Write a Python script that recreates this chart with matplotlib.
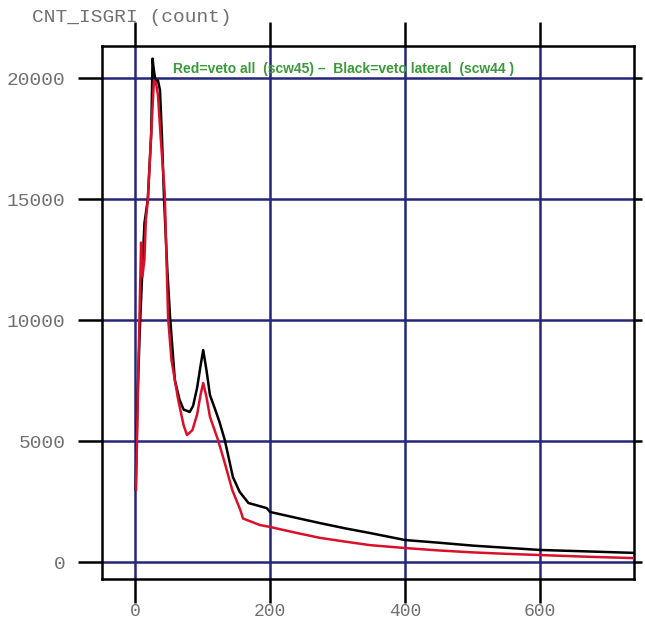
import matplotlib.pyplot as plt
import numpy as np

# channel vs counts
black_ch = [1, 4, 7, 10, 14, 19, 24, 26, 28, 31, 34, 37, 40, 43, 48, 52, 59, 66, 72,
            77, 81, 86, 92, 97, 101, 106, 111, 118, 125, 133, 145, 155, 168, 195,
            200, 240, 274, 310, 348, 400, 450, 500, 550, 600, 670, 738]
black_cnt = [3000, 7000, 9500, 11500, 14000, 15000, 17700, 20800, 20300, 19800, 19900,
             19500, 17500, 15000, 12000, 10100, 7520, 6700, 6300, 6250, 6200, 6450,
             7200, 8100, 8760, 7900, 6900, 6360, 5800, 5040, 3510, 2900, 2440, 2230,
             2070, 1820, 1610, 1400, 1200, 910, 800, 680, 590, 500, 440, 380]

red_ch = [1.5, 5, 9, 11, 14, 16, 19, 24, 28, 31, 34, 38, 44, 49, 54, 64, 72, 77, 85,
          92, 97, 101, 106, 111, 123, 133, 144, 156, 160, 185, 200, 240, 274, 310,
          348, 400, 450, 500, 550, 600, 670, 738]
red_cnt = [3000, 8000, 13200, 11800, 12500, 14100, 14960, 17700, 19900, 19800, 19300,
           17550, 15250, 10100, 8350, 6700, 5650, 5250, 5450, 6100, 6900, 7400, 6800,
           6000, 5040, 4090, 2980, 2150, 1800, 1530, 1450, 1200, 1000, 850, 700, 580,
           480, 400, 340, 290, 220, 165]

xticks = [0, 200, 400, 600]
yticks = [0, 5000, 10000, 15000, 20000]

fig = plt.figure(figsize=(6.45, 6.19), dpi=100)
fig.patch.set_facecolor('white')
ax = fig.add_axes([0.158, 0.0646, 0.825, 0.861])

grid_col = '#25257a'
for xv in xticks:
    ax.axvline(xv, color=grid_col, lw=1.8, zorder=1)
for yv in yticks:
    ax.axhline(yv, color=grid_col, lw=1.8, zorder=1)

ax.plot(black_ch, black_cnt, color='black', lw=1.8, zorder=3)
ax.plot(red_ch, red_cnt, color='#d8102a', lw=1.8, zorder=4)

ax.set_xlim(-49, 739)
ax.set_ylim(-700, 21320)
ax.set_xticks(xticks)
ax.set_yticks(yticks)

for s in ax.spines.values():
    s.set_linewidth(1.8)
    s.set_color('black')

mono = 'Liberation Mono'
ax.tick_params(axis='both', direction='out', length=17, width=1.8, color='black',
               labelcolor='#707070', labelsize=14)
ax.tick_params(axis='x', top=True, pad=0, labelsize=13)
ax.tick_params(axis='y', pad=9)
for lab in ax.get_xticklabels() + ax.get_yticklabels():
    lab.set_family(mono)

# short ticks on the right side
sec = ax.secondary_yaxis('right')
sec.set_yticks(yticks)
sec.tick_params(direction='out', length=6, width=1.8, labelright=False)
sec.spines['right'].set_visible(False)

fig.text(32 / 645, 1 - 18 / 619, 'CNT_ISGRI (count)', family=mono, fontsize=14,
         color='#707070', ha='left', va='center')

ax.text(56, 20370, 'Red=veto all  (scw45) \u2013  Black=veto lateral  (scw44 )',
        color='#3a9a3a', fontweight='bold', fontsize=10, family='Liberation Sans',
        ha='left', va='center', zorder=5)

fig.savefig('out.png', dpi=100)
